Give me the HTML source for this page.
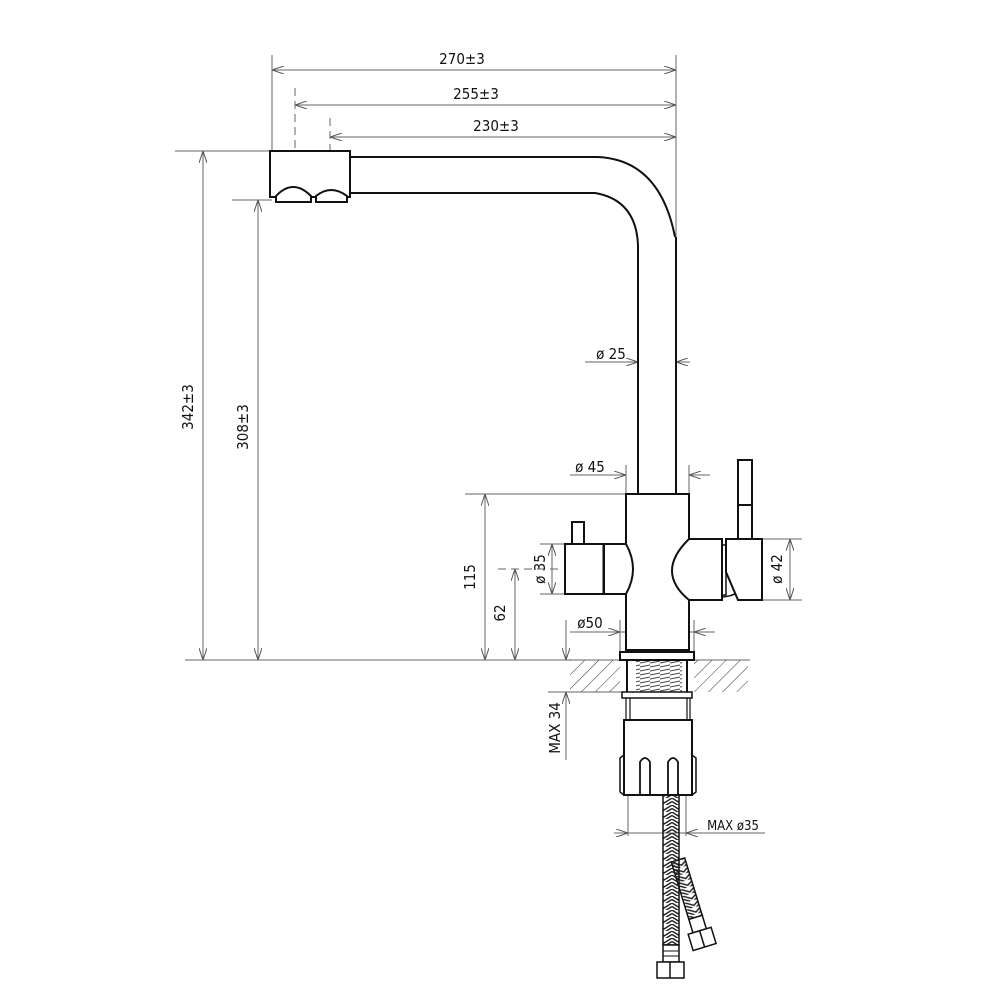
<!DOCTYPE html>
<html><head><meta charset="utf-8"><style>html,body{margin:0;padding:0;background:#fff}svg{display:block}text{font-family:"DejaVu Sans Condensed","Liberation Sans",sans-serif;font-size:15px;fill:#111}</style></head><body>
<svg width="1000" height="1000" viewBox="0 0 1000 1000" xmlns="http://www.w3.org/2000/svg">
<defs>
<marker id="a" viewBox="0 0 12 8" refX="12" refY="4" markerWidth="12" markerHeight="8" orient="auto-start-reverse" markerUnits="userSpaceOnUse"><path d="M0,0 L12,4 L0,8" fill="none" stroke="#555" stroke-width="1"/></marker>
<pattern id="hatch" width="10" height="10" patternUnits="userSpaceOnUse" patternTransform="rotate(45)"><line x1="0" y1="0" x2="0" y2="10" stroke="#333" stroke-width="1"/></pattern>
<pattern id="chev" width="16" height="7" patternUnits="userSpaceOnUse"><path d="M0,0 L8,5 L16,0 M0,3.5 L8,8.5 L16,3.5" fill="none" stroke="#222" stroke-width="1.4"/></pattern>
<pattern id="thr" width="10" height="4" patternUnits="userSpaceOnUse"><line x1="0" y1="3" x2="10" y2="1" stroke="#444" stroke-width="1"/></pattern>
</defs>
<g stroke="#666" stroke-width="1" fill="none">
<line x1="272" y1="55" x2="272" y2="151"/>
<line x1="676" y1="55" x2="676" y2="237"/>
<line x1="272" y1="70" x2="676" y2="70" marker-start="url(#a)" marker-end="url(#a)"/>
<line x1="295" y1="105" x2="676" y2="105" marker-start="url(#a)" marker-end="url(#a)"/>
<line x1="330" y1="137" x2="676" y2="137" marker-start="url(#a)" marker-end="url(#a)"/>
<line x1="295" y1="88" x2="295" y2="200" stroke-dasharray="8,5"/>
<line x1="330" y1="118" x2="330" y2="200" stroke-dasharray="8,5"/>
<line x1="175" y1="151" x2="270" y2="151"/>
<line x1="232" y1="200" x2="272" y2="200"/>
<line x1="185" y1="660" x2="750" y2="660"/>
<line x1="203" y1="151" x2="203" y2="660" marker-start="url(#a)" marker-end="url(#a)"/>
<line x1="258" y1="200" x2="258" y2="660" marker-start="url(#a)" marker-end="url(#a)"/>
<line x1="465" y1="494" x2="626" y2="494"/>
<line x1="485" y1="494" x2="485" y2="660" marker-start="url(#a)" marker-end="url(#a)"/>
<line x1="498" y1="569" x2="562" y2="569" stroke-dasharray="8,5"/>
<line x1="515" y1="569" x2="515" y2="660" marker-start="url(#a)" marker-end="url(#a)"/>
<line x1="540" y1="544" x2="565" y2="544"/><line x1="540" y1="594" x2="565" y2="594"/>
<line x1="552" y1="544" x2="552" y2="594" marker-start="url(#a)" marker-end="url(#a)"/>
<line x1="762" y1="539" x2="802" y2="539"/><line x1="762" y1="600" x2="802" y2="600"/>
<line x1="790" y1="539" x2="790" y2="600" marker-start="url(#a)" marker-end="url(#a)"/>
<line x1="585" y1="362" x2="638" y2="362" marker-end="url(#a)"/><line x1="690" y1="362" x2="676" y2="362" marker-end="url(#a)"/>
<line x1="626" y1="465" x2="626" y2="494"/><line x1="689" y1="465" x2="689" y2="494"/>
<line x1="570" y1="475" x2="626" y2="475" marker-end="url(#a)"/><line x1="710" y1="475" x2="689" y2="475" marker-end="url(#a)"/>
<line x1="620" y1="620" x2="620" y2="652"/><line x1="694" y1="620" x2="694" y2="652"/>
<line x1="570" y1="632" x2="620" y2="632" marker-end="url(#a)"/><line x1="620" y1="632" x2="694" y2="632"/><line x1="715" y1="632" x2="694" y2="632" marker-end="url(#a)"/>
<line x1="566" y1="620" x2="566" y2="660" marker-end="url(#a)"/>
<line x1="548" y1="692" x2="622" y2="692"/>
<line x1="566" y1="760" x2="566" y2="692" marker-end="url(#a)"/>
<line x1="628" y1="795" x2="628" y2="836"/><line x1="686" y1="795" x2="686" y2="836"/>
<line x1="614" y1="833" x2="628" y2="833" marker-end="url(#a)"/><line x1="628" y1="833" x2="686" y2="833"/><line x1="765" y1="833" x2="686" y2="833" marker-end="url(#a)"/>
</g>
<rect x="570" y="660" width="50" height="32" fill="url(#hatch)"/>
<rect x="694" y="660" width="54" height="32" fill="url(#hatch)"/>
<rect x="636" y="660" width="46" height="32" fill="url(#thr)"/>
<g stroke="#111" stroke-width="2" fill="none">
<rect x="270" y="151" width="80" height="46" fill="#fff"/>
<path d="M276,202 L276,196 Q293,178 311,196 L311,202 Z M316,202 L316,196 Q331,184 347,196 L347,202 Z" fill="#fff"/>
<path d="M350,157 L598,157 Q660,160 675,237"/>
<path d="M350,193 L595,193 Q636,200 638,245 L638,494"/>
<line x1="676" y1="237" x2="676" y2="494"/>
<rect x="626" y="494" width="63" height="156" fill="#fff"/>
<rect x="620" y="652" width="74" height="8" fill="#fff"/>
<line x1="627" y1="660" x2="627" y2="692"/><line x1="687" y1="660" x2="687" y2="692"/>
<rect x="622" y="692" width="70" height="6" stroke-width="1.5"/>
<line x1="626" y1="698" x2="626" y2="720" stroke-width="1.2"/><line x1="630" y1="698" x2="630" y2="720" stroke-width="1.2"/>
<line x1="687" y1="698" x2="687" y2="720" stroke-width="1.2"/><line x1="690" y1="698" x2="690" y2="720" stroke-width="1.2"/>
<rect x="572" y="522" width="12" height="22"/>
<rect x="565" y="544" width="40" height="50" fill="#fff"/>
<line x1="604" y1="544" x2="604" y2="594" stroke-width="3"/>
<path d="M605,544 L626,544 Q640,569 626,594 L605,594" fill="#fff"/>
<path d="M689,539 L722,539 L722,600 L689,600 Q655,572 689,539 Z" fill="#fff"/>
<rect x="722" y="545" width="4" height="50" stroke-width="1.5"/>
<path d="M722,597 Q735,596 740,590" stroke-width="1.5"/>
<path d="M726,539 L762,539 L762,600 L738,600 L726,572 Z" fill="#fff"/>
<rect x="738" y="505" width="14" height="34"/>
<rect x="738" y="460" width="14" height="45"/>
<path d="M624,795 L624,720 L692,720 L692,795 Z" fill="#fff"/>
<path d="M624,755 L620,758 L620,792 L624,795 M692,755 L696,758 L696,792 L692,795" stroke-width="1.5"/>
<path d="M640,795 L640,762 Q645,754 650,762 L650,795 M668,795 L668,762 Q673,754 678,762 L678,795" stroke-width="1.8"/>
</g>
<g stroke="#111" stroke-width="1.5">
<g transform="rotate(-17 678 860)">
<rect x="671" y="860" width="14" height="60" fill="url(#chev)"/>
<rect x="671" y="920" width="14" height="14" fill="#fff"/>
<rect x="666" y="934" width="24" height="17" fill="#fff"/><line x1="678" y1="934" x2="678" y2="951"/>
</g>
<rect x="663" y="795" width="16" height="150" fill="url(#chev)"/>
<rect x="663" y="945" width="16" height="17" fill="#fff"/>
<line x1="663" y1="951" x2="679" y2="951" stroke-width="1"/><line x1="663" y1="956" x2="679" y2="956" stroke-width="1"/>
<rect x="657" y="962" width="27" height="16" fill="#fff"/><line x1="670" y1="962" x2="670" y2="978"/>
</g>
<text x="462" y="64" text-anchor="middle">270±3</text>
<text x="476" y="99" text-anchor="middle">255±3</text>
<text x="496" y="131" text-anchor="middle">230±3</text>
<text x="611" y="359" text-anchor="middle">ø 25</text>
<text x="590" y="472" text-anchor="middle">ø 45</text>
<text x="590" y="628" text-anchor="middle">ø50</text>
<text x="733" y="830" text-anchor="middle" style="font-size:13px">MAX ø35</text>
<text transform="translate(193,407) rotate(-90)" text-anchor="middle">342±3</text>
<text transform="translate(248,427) rotate(-90)" text-anchor="middle">308±3</text>
<text transform="translate(475,577) rotate(-90)" text-anchor="middle">115</text>
<text transform="translate(505,613) rotate(-90)" text-anchor="middle">62</text>
<text transform="translate(545,569) rotate(-90)" text-anchor="middle">ø 35</text>
<text transform="translate(782,569) rotate(-90)" text-anchor="middle">ø 42</text>
<text transform="translate(560,728) rotate(-90)" text-anchor="middle">MAX 34</text>
</svg>
</body></html>
